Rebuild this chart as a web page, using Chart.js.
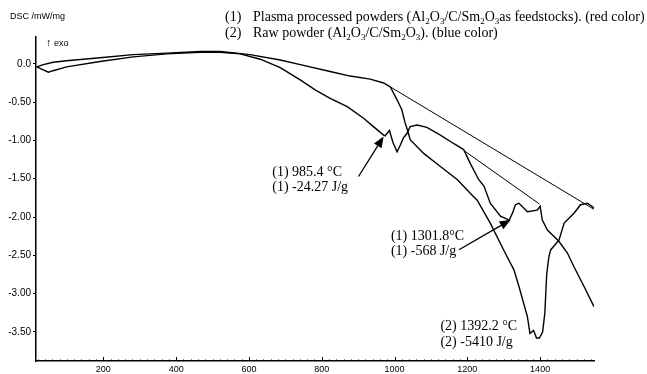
<!DOCTYPE html>
<html>
<head>
<meta charset="utf-8">
<script src="https://cdn.jsdelivr.net/npm/chart.js@4/dist/chart.umd.min.js"></script>
<style>
  html,body{margin:0;padding:0;background:#fff;}
  #wrap{position:relative;width:647px;height:374px;overflow:hidden;}
  canvas{position:absolute;left:0;top:0;}
  .t{position:absolute;white-space:nowrap;color:#000;}
  .leg{font-family:"Liberation Serif","Times New Roman",serif;font-size:14px;line-height:16px;}
  .leg sub{font-size:9px;vertical-align:-3px;line-height:0;}
  .num{display:inline-block;width:28px;}
  .sans{font-family:"Liberation Sans",Arial,sans-serif;font-size:9px;}
</style>
</head>
<body>
<div id="wrap">
  <canvas id="c" width="647" height="374"></canvas>
  <div class="t sans" style="left:10px;top:11px;">DSC /mW/mg</div>
  <div class="t sans" style="left:46px;top:36px;"><span style="font-size:11px">↑</span> exo</div>
  <div class="t leg" style="left:225px;top:9px;">
    <div><span class="num">(1)</span>Plasma processed powders (Al<sub>2</sub>O<sub>3</sub>/C/Sm<sub>2</sub>O<sub>3</sub>as feedstocks). (red color)</div>
    <div><span class="num">(2)</span>Raw powder (Al<sub>2</sub>O<sub>3</sub>/C/Sm<sub>2</sub>O<sub>3</sub>). (blue color)</div>
  </div>
</div>
<script>
// ---- data (temperature in °C, DSC in mW/mg) ----
const redX = [17, 35, 49, 62, 99, 191, 282, 374, 466, 521, 576, 631, 686, 741, 782, 823, 870, 915, 942, 970, 974, 986, 996, 1007, 1016, 1024, 1034, 1043, 1062, 1089, 1126, 1162, 1190, 1208, 1231, 1246, 1263, 1291, 1315, 1324, 1332, 1342, 1365, 1392, 1400, 1406, 1420, 1452, 1475, 1493, 1521, 1548];
const redY = [-0.04, -0.08, -0.11, -0.09, -0.04, 0.03, 0.09, 0.13, 0.15, 0.15, 0.13, 0.06, -0.05, -0.21, -0.34, -0.45, -0.56, -0.71, -0.82, -0.93, -0.94, -0.87, -1.03, -1.15, -1.06, -0.97, -0.91, -0.82, -0.80, -0.83, -0.93, -1.04, -1.12, -1.30, -1.51, -1.60, -1.82, -1.99, -2.04, -1.95, -1.84, -1.82, -1.93, -1.91, -1.86, -2.04, -2.17, -2.32, -2.47, -2.65, -2.91, -3.17];
const blueX = [17, 35, 62, 99, 191, 282, 374, 466, 521, 603, 686, 741, 823, 878, 933, 970, 988, 1007, 1020, 1029, 1036, 1043, 1080, 1126, 1172, 1208, 1227, 1263, 1304, 1328, 1342, 1365, 1372, 1382, 1390, 1398, 1407, 1413, 1418, 1424, 1429, 1452, 1466, 1493, 1511, 1530, 1548];
const blueY = [-0.04, -0.01, 0.02, 0.04, 0.08, 0.12, 0.14, 0.16, 0.16, 0.12, 0.05, -0.01, -0.10, -0.16, -0.20, -0.25, -0.30, -0.47, -0.60, -0.77, -0.87, -0.99, -1.17, -1.34, -1.51, -1.69, -1.78, -2.08, -2.47, -2.69, -2.91, -3.30, -3.52, -3.48, -3.58, -3.58, -3.50, -3.25, -2.75, -2.52, -2.43, -2.30, -2.08, -1.95, -1.84, -1.82, -1.88];
const blueBaseX = [988, 1548];
const blueBaseY = [-0.30, -1.90];
const redBaseX = [1190, 1398];
const redBaseY = [-1.13, -1.83];
const xTicks = [200, 400, 600, 800, 1000, 1200, 1400];
const yTicks = [0, -0.5, -1.0, -1.5, -2.0, -2.5, -3.0, -3.5];

// ---- annotations (anchored in data units) ----
const arrows = [
  {from: [901, -1.471], to: [970, -0.949]},
  {from: [1177, -2.428], to: [1319, -2.037]}
];
const notes = [
  {text: '(1) 985.4 °C', at: [664, -1.423]},
  {text: '(1) -24.27 J/g', at: [664, -1.619]},
  {text: '(1) 1301.8°C', at: [990, -2.255]},
  {text: '(1) -568 J/g', at: [990, -2.454]},
  {text: '(2) 1392.2 °C', at: [1126, -3.427]},
  {text: '(2) -5410 J/g', at: [1126, -3.642]}
];

const pts = (xs, ys) => xs.map((v, i) => ({x: v, y: ys[i]}));

const annotPlugin = {
  id: 'annot',
  afterDatasetsDraw(chart) {
    const {ctx, scales: {x, y}, chartArea} = chart;
    ctx.save();
    ctx.strokeStyle = '#000';
    ctx.fillStyle = '#000';
    arrows.forEach(a => {
      const x0 = x.getPixelForValue(a.from[0]), y0 = y.getPixelForValue(a.from[1]);
      const x1 = x.getPixelForValue(a.to[0]), y1 = y.getPixelForValue(a.to[1]);
      const ang = Math.atan2(y1 - y0, x1 - x0);
      const L = 11, W = 4.5;
      const bx = x1 - L * Math.cos(ang), by = y1 - L * Math.sin(ang);
      ctx.lineWidth = 1.3;
      ctx.beginPath(); ctx.moveTo(x0, y0); ctx.lineTo(bx, by); ctx.stroke();
      ctx.beginPath();
      ctx.moveTo(x1, y1);
      ctx.lineTo(bx + W * Math.sin(ang), by - W * Math.cos(ang));
      ctx.lineTo(bx - W * Math.sin(ang), by + W * Math.cos(ang));
      ctx.closePath(); ctx.fill();
    });
    ctx.font = '14px "Liberation Serif"';
    ctx.textBaseline = 'middle';
    ctx.textAlign = 'left';
    notes.forEach(n => ctx.fillText(n.text, x.getPixelForValue(n.at[0]), y.getPixelForValue(n.at[1])));
    ctx.lineWidth = 1;
    const yb = chartArea.bottom;
    for (let v = 20; v <= 1540; v += 20) {
      const px = Math.round(x.getPixelForValue(v)) + 0.5;
      const len = (v % 200 === 0) ? 4 : 1.5;
      ctx.beginPath(); ctx.moveTo(px, yb); ctx.lineTo(px, yb - len); ctx.stroke();
    }
    ctx.restore();
  }
};

const lineDs = (data, w) => ({
  data, showLine: true, borderColor: '#000', backgroundColor: '#000',
  borderWidth: w, pointRadius: 0, tension: 0, fill: false
});

new Chart(document.getElementById('c'), {
  type: 'scatter',
  data: {
    datasets: [
      Object.assign(lineDs(pts(redX, redY), 1.4), {label: '(1) Plasma processed powders'}),
      Object.assign(lineDs(pts(blueX, blueY), 1.4), {label: '(2) Raw powder'}),
      Object.assign(lineDs(pts(blueBaseX, blueBaseY), 1), {label: 'baseline 2'}),
      Object.assign(lineDs(pts(redBaseX, redBaseY), 1), {label: 'baseline 1'})
    ]
  },
  options: {
    responsive: false,
    animation: false,
    devicePixelRatio: 1,
    layout: {padding: {top: 37, right: 53, left: 0, bottom: 0}},
    plugins: {legend: {display: false}, tooltip: {enabled: false}, title: {display: false}},
    scales: {
      x: {
        type: 'linear', min: 15, max: 1548,
        afterBuildTicks: s => { s.ticks = xTicks.map(v => ({value: v})); },
        afterFit: s => { s.height = 13; },
        grid: {display: true, drawOnChartArea: false, drawTicks: false, tickLength: 0},
        border: {display: true, color: '#000', width: 1.5},
        ticks: {color: '#000', font: {family: 'Liberation Sans', size: 9}, padding: 3, maxRotation: 0, autoSkip: false,
          callback: v => String(v)}
      },
      y: {
        type: 'linear', min: -3.88, max: 0.35,
        afterBuildTicks: s => { s.ticks = yTicks.map(v => ({value: v})); },
        afterFit: s => { s.width = 36; },
        grid: {display: true, drawOnChartArea: false, drawTicks: true, tickLength: 3, color: '#000'},
        border: {display: true, color: '#000', width: 1.5},
        ticks: {color: '#000', font: {family: 'Liberation Sans', size: 10}, padding: 2, autoSkip: false,
          callback: v => (v === 0 ? '0.0' : v.toFixed(2))}
      }
    }
  },
  plugins: [annotPlugin]
});
</script>
</body>
</html>
